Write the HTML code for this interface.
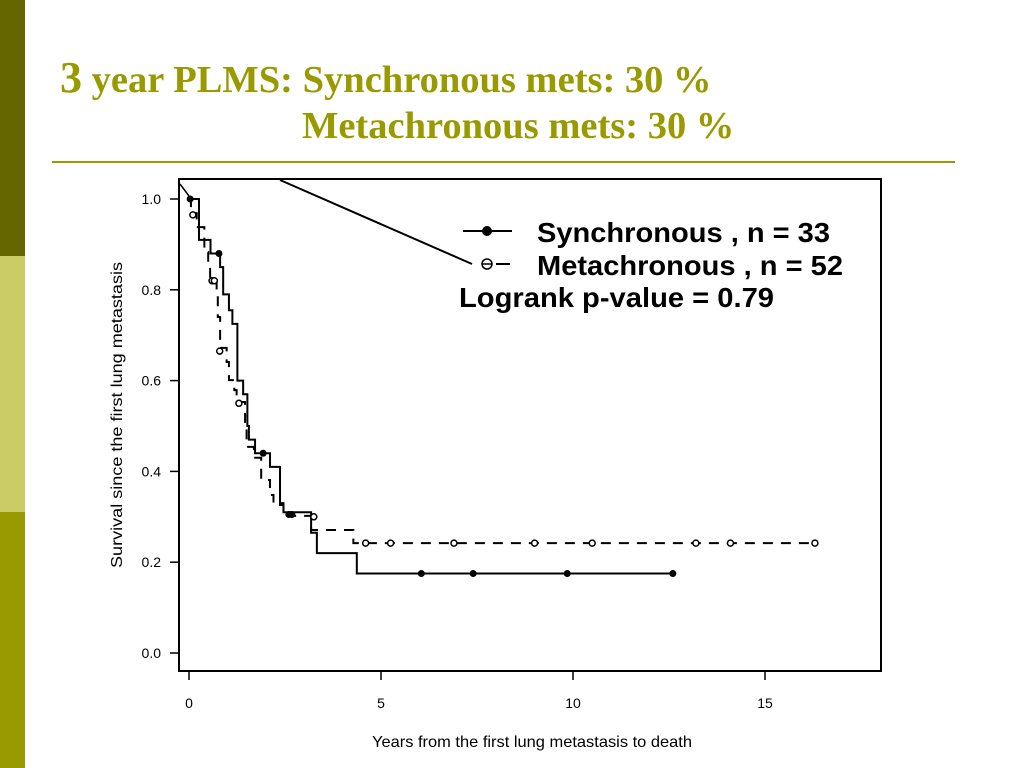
<!DOCTYPE html>
<html><head><meta charset="utf-8"><style>
body{margin:0;width:1024px;height:768px;background:#fff;overflow:hidden;position:relative;font-family:"Liberation Sans",sans-serif}
.bar{position:absolute;left:0;width:25px}
.t{position:absolute;font-family:"Liberation Serif",serif;font-weight:bold;color:#999900;white-space:nowrap}
</style></head><body>
<div class="bar" style="top:0;height:256px;background:#666600"></div>
<div class="bar" style="top:256px;height:256px;background:#cccc66"></div>
<div class="bar" style="top:512px;height:256px;background:#999900"></div>
<div class="t" style="left:60px;top:52px;font-size:38.5px"><span style="font-size:44px">3</span> year PLMS: Synchronous mets: 30 %</div>
<div class="t" style="left:302px;top:104px;font-size:38.5px">Metachronous mets: 30 %</div>
<div style="position:absolute;left:52px;top:161px;width:903px;height:2px;background:#999900"></div>
<svg id="chart" width="1024" height="768" style="position:absolute;left:0;top:0" font-family="Liberation Sans, sans-serif"></svg>
<script>
const xTicks=[0,5,10,15];
const yTicks=["0.0","0.2","0.4","0.6","0.8","1.0"];
const syncTimes=[0,0.26,0.56,0.81,0.89,1.04,1.13,1.26,1.41,1.52,1.56,1.72,2.11,2.37,2.46,3.18,3.33,4.37,12.6];
const syncSurv=[1.0,0.91,0.88,0.85,0.79,0.755,0.725,0.60,0.57,0.50,0.47,0.44,0.41,0.33,0.31,0.265,0.22,0.175,0.175];
const syncCensT=[0.03,0.78,1.93,2.6,2.68,6.05,7.4,9.85,12.6];
const syncCensS=[1.0,0.88,0.44,0.305,0.305,0.175,0.175,0.175,0.175];
const metaTimes=[0,0.05,0.2,0.4,0.5,0.55,0.72,0.75,0.81,0.98,1.04,1.18,1.24,1.46,1.5,1.69,1.88,2.11,2.2,2.46,3.18,4.28,16.3];
const metaSurv=[1.0,0.969,0.938,0.883,0.859,0.824,0.80,0.74,0.672,0.641,0.601,0.579,0.553,0.502,0.454,0.43,0.381,0.348,0.326,0.302,0.271,0.242,0.242];
const metaCensT=[0.1,0.6,0.66,0.8,1.3,3.25,4.6,5.25,6.9,9.0,10.5,13.2,14.1,16.3];
const metaCensS=[0.965,0.82,0.82,0.665,0.55,0.30,0.242,0.242,0.242,0.242,0.242,0.242,0.242,0.242];
const X=t=>189+t*38.4, Y=s=>653-s*454;
const svg=document.getElementById('chart');
const NS='http://www.w3.org/2000/svg';
function mk(tag,attrs,parent){const e=document.createElementNS(NS,tag);for(const k in attrs)e.setAttribute(k,attrs[k]);(parent||svg).appendChild(e);return e;}
let e=mk('rect',{x:179,y:179,width:702,height:492,fill:'none',stroke:'#000','stroke-width':2});


xTicks.forEach(v=>{
 let l=mk('line',{x1:X(v),x2:X(v),y1:671,y2:680,stroke:'#000','stroke-width':1.5});
 
 
 let t=mk('text',{x:X(v),y:708,'text-anchor':'middle','font-size':14});t.textContent=v;
 
 
});
yTicks.forEach(v=>{
 let l=mk('line',{x1:170,x2:179,y1:Y(+v),y2:Y(+v),stroke:'#000','stroke-width':1.5});
 
 
 let t=mk('text',{x:161,y:Y(+v)+5,'text-anchor':'end','font-size':14});t.textContent=v;
 
 
});
let xt=mk('text',{x:372,y:747,'font-size':16,textLength:320,lengthAdjust:'spacingAndGlyphs'});xt.textContent='Years from the first lung metastasis to death';


let yt=mk('text',{x:-153,y:0,'font-size':16,textLength:306,lengthAdjust:'spacingAndGlyphs',transform:'translate(122,415) rotate(-90)'});yt.textContent='Survival since the first lung metastasis';


function stepPath(T,S){let d='M'+X(T[0])+','+Y(S[0]);for(let i=1;i<T.length;i++){d+=' H'+X(T[i])+' V'+Y(S[i]);}return d;}
let p1=mk('path',{d:stepPath(syncTimes,syncSurv),fill:'none',stroke:'#000','stroke-width':2});


let p2=mk('path',{d:stepPath(metaTimes,metaSurv),fill:'none',stroke:'#000','stroke-width':2,'stroke-dasharray':'10,8'});


syncCensT.forEach((t,i)=>{let c=mk('circle',{cx:X(t),cy:Y(syncCensS[i]),r:3.5,fill:'#000'});
 
 });
metaCensT.forEach((t,i)=>{let c=mk('circle',{cx:X(t),cy:Y(metaCensS[i]),r:3,fill:'#fff',stroke:'#000','stroke-width':1.5});
 
 });
let pl=mk('line',{x1:280,y1:180,x2:472,y2:264,stroke:'#000','stroke-width':2});


let pl2=mk('line',{x1:180,y1:184,x2:189,y2:196,stroke:'#000','stroke-width':1.5});


let g1=mk('g',{});


mk('line',{x1:463,x2:512,y1:231,y2:231,stroke:'#000','stroke-width':2},g1);
mk('circle',{cx:487,cy:231,r:5,fill:'#000'},g1);
let lt1=mk('text',{x:537,y:242,'font-size':28,'font-weight':'bold',textLength:293,lengthAdjust:'spacingAndGlyphs'},g1);lt1.textContent='Synchronous , n = 33';
let g2=mk('g',{});


mk('line',{x1:496,x2:510,y1:264,y2:264,stroke:'#000','stroke-width':2},g2);
mk('circle',{cx:487,cy:264,r:5,fill:'#fff',stroke:'#000','stroke-width':1.5},g2);
mk('line',{x1:482,x2:492,y1:264,y2:264,stroke:'#000','stroke-width':1.5},g2);
let lt2=mk('text',{x:537,y:275,'font-size':28,'font-weight':'bold',textLength:306,lengthAdjust:'spacingAndGlyphs'},g2);lt2.textContent='Metachronous , n = 52';
let lr=mk('text',{x:459,y:307,'font-size':28,'font-weight':'bold',textLength:315,lengthAdjust:'spacingAndGlyphs'});lr.textContent='Logrank p-value = 0.79';


</script>
</body></html>
